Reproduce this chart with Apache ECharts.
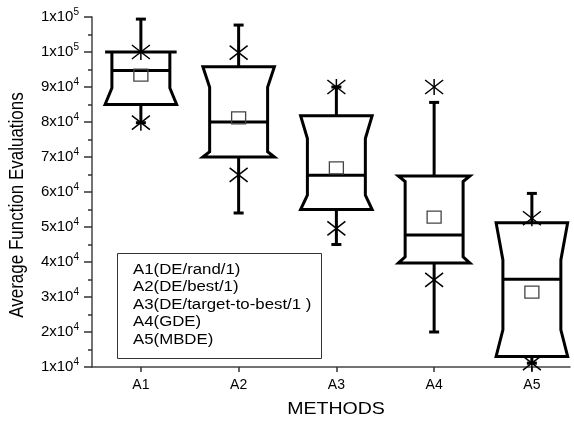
<!DOCTYPE html>
<html>
<head>
<meta charset="utf-8">
<script src="https://cdn.jsdelivr.net/npm/echarts@6/dist/echarts.min.js"></script>
<style>html,body{margin:0;padding:0;background:#fff}#c{width:574px;height:426px}</style>
</head>
<body>
<div id="c"></div>
<script>
// ---- data ----
var categories = ['A1', 'A2', 'A3', 'A4', 'A5'];
var whiskerMin = [79800, 54000, 45000, 20000, 11100];
var q1         = [85000, 70000, 55000, 39700, 13000];
var notchLo    = [89700, 71500, 59100, 41500, 20600];
var median     = [94700, 80000, 64800, 47700, 35100];
var notchHi    = [100000, 89900, 75300, 63000, 40600];
var q3         = [100000, 95800, 81800, 64600, 51200];
var whiskerMax = [109400, 107700, 90000, 85600, 59600];
var meanVal    = [93400, 81200, 66900, 52800, 31400];
var starLow    = [79800, 64900, 49600, 34900, 11100];
var starHigh   = [100000, 99800, 90000, 90000, 52500];
var yTickMant  = ['1','2','3','4','5','6','7','8','9','1','1'];
var yTickExp   = ['4','4','4','4','4','4','4','4','4','5','5'];
var legendLabels = ['A1(DE/rand/1)', 'A2(DE/best/1)', 'A3(DE/target-to-best/1 )', 'A4(GDE)', 'A5(MBDE)'];
var xName = 'METHODS';
var yName = 'Average Function Evaluations';

var FONT = '"Liberation Sans", Arial, sans-serif';
var chart = echarts.init(document.getElementById('c'), null, {renderer: 'canvas'});

var boxData = categories.map(function (c, i) {
  return [i + 1, whiskerMin[i], q1[i], notchLo[i], median[i], notchHi[i], q3[i], whiskerMax[i], meanVal[i], starLow[i], starHigh[i]];
});

function renderBox(params, api) {
  var x = api.value(0);
  var P = function (v) { return api.coord([x, v]); };
  var cx = P(0)[0];
  var halfW = api.size([0.366, 0])[0];
  var halfN = halfW * 0.81;
  var yv = function (k) { return P(api.value(k))[1]; };
  var wMin = yv(1), bQ1 = yv(2), nLo = yv(3), med = yv(4), nHi = yv(5), bQ3 = yv(6), wMax = yv(7), mn = yv(8), sLo = yv(9), sHi = yv(10);
  var lineStyle = {stroke: '#000', lineWidth: 3, fill: null};
  var children = [];
  children.push({type: 'line', shape: {x1: cx, y1: bQ3, x2: cx, y2: wMax}, style: lineStyle});
  children.push({type: 'line', shape: {x1: cx, y1: bQ1, x2: cx, y2: wMin}, style: lineStyle});
  children.push({type: 'line', shape: {x1: cx - 5, y1: wMax, x2: cx + 5, y2: wMax}, style: lineStyle});
  children.push({type: 'line', shape: {x1: cx - 5, y1: wMin, x2: cx + 5, y2: wMin}, style: lineStyle});
  var pts = [
    [cx - halfW, bQ3], [cx + halfW, bQ3], [cx + halfN, nHi], [cx + halfN, nLo],
    [cx + halfW, bQ1], [cx - halfW, bQ1], [cx - halfN, nLo], [cx - halfN, nHi]
  ];
  children.push({type: 'polygon', shape: {points: pts}, style: {stroke: '#000', lineWidth: 3, fill: 'rgba(0,0,0,0)', lineJoin: 'miter'}});
  children.push({type: 'line', shape: {x1: cx - halfN, y1: med, x2: cx + halfN, y2: med}, style: lineStyle});
  children.push({type: 'rect', shape: {x: cx - 7, y: mn - 6, width: 14, height: 12}, style: {stroke: '#444', lineWidth: 1.3, fill: null}});
  [sLo, sHi].forEach(function (sy) {
    var st = {stroke: '#000', lineWidth: 1.5};
    children.push({type: 'line', shape: {x1: cx - 9, y1: sy - 7, x2: cx + 9, y2: sy + 7}, style: st});
    children.push({type: 'line', shape: {x1: cx - 9, y1: sy + 7, x2: cx + 9, y2: sy - 7}, style: st});
    children.push({type: 'line', shape: {x1: cx, y1: sy - 8, x2: cx, y2: sy + 8}, style: st});
  });
  return {type: 'group', children: children};
}

var legendChildren = [{type: 'rect', shape: {x: 117.5, y: 253.5, width: 204, height: 105}, style: {stroke: '#333', lineWidth: 1, fill: '#fff'}}];
legendLabels.forEach(function (t, i) {
  legendChildren.push({type: 'text', x: 133, y: 270 + i * 17.5, scaleX: 1.2,
    style: {text: t, font: '14px ' + FONT, fill: '#000', verticalAlign: 'middle', align: 'left'}});
});

chart.setOption({
  animation: false,
  backgroundColor: '#fff',
  grid: {left: 92, right: 4, top: 17, bottom: 59, containLabel: false},
  xAxis: {
    type: 'value', min: 0.5, max: 5.39,
    axisLine: {show: true, lineStyle: {color: '#444', width: 1.5}},
    axisTick: {show: true, length: 5, customValues: [1, 2, 3, 4, 5], lineStyle: {color: '#333', width: 1.5}},
    axisLabel: {customValues: [1, 2, 3, 4, 5], margin: 11, fontFamily: FONT, fontSize: 14, color: '#000',
      formatter: function (v) { return categories[Math.round(v) - 1]; }},
    splitLine: {show: false}
  },
  yAxis: {
    type: 'value', min: 10000, max: 110000, interval: 10000,
    axisLine: {show: true, lineStyle: {color: '#444', width: 1.5}},
    axisTick: {show: true, length: 8, lineStyle: {color: '#333', width: 1.5}},
    minorTick: {show: true, splitNumber: 2, length: 4, lineStyle: {color: '#333', width: 1.5}},
    axisLabel: {
      margin: 13, color: '#000',
      formatter: function (v) {
        var idx = Math.round((v - 10000) / 10000);
        return '{b|' + yTickMant[idx] + 'x10}{s|' + yTickExp[idx] + '}';
      },
      rich: {
        b: {fontFamily: FONT, fontSize: 15, color: '#000'},
        s: {fontFamily: FONT, fontSize: 10, color: '#000', padding: [0, 0, 9, 0]}
      }
    },
    splitLine: {show: false}
  },
  series: [{
    type: 'custom',
    renderItem: renderBox,
    data: boxData,
    clip: false,
    encode: {x: 0, y: [1, 7]}
  }],
  graphic: [
    {type: 'group', z: 100, children: legendChildren},
    {type: 'text', x: 336, y: 409, scaleX: 1.15, style: {text: xName, font: '17px ' + FONT, fill: '#000', align: 'center', verticalAlign: 'middle'}},
    {type: 'text', x: 17, y: 205, rotation: Math.PI / 2, scaleY: 1.2, style: {text: yName, font: '17px ' + FONT, fill: '#000', align: 'center', verticalAlign: 'middle'}}
  ]
});
</script>
</body>
</html>
